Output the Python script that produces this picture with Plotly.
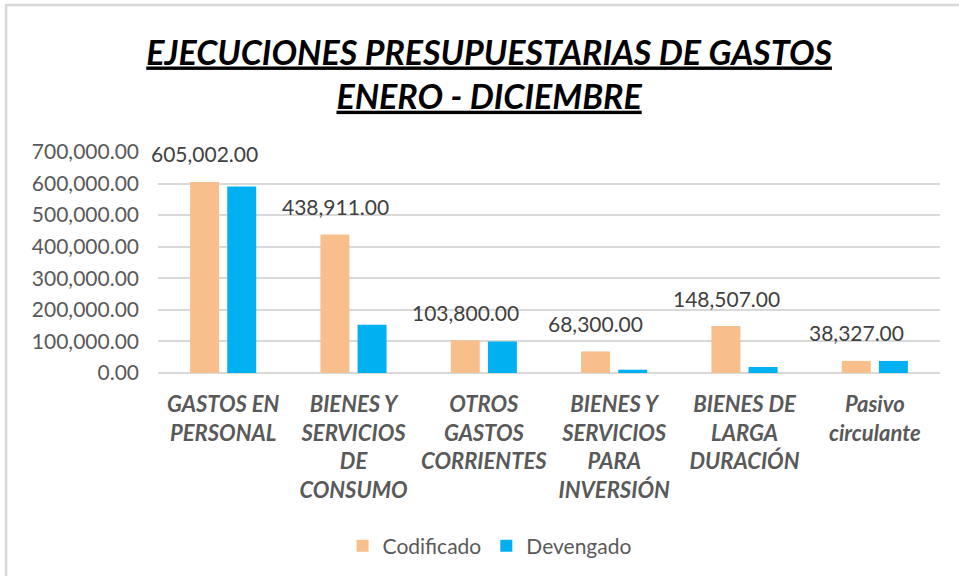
import plotly.graph_objects as go

categories = [
    "GASTOS EN<br>PERSONAL",
    "BIENES Y<br>SERVICIOS<br>DE<br>CONSUMO",
    "OTROS<br>GASTOS<br>CORRIENTES",
    "BIENES Y<br>SERVICIOS<br>PARA<br>INVERSIÓN",
    "BIENES DE<br>LARGA<br>DURACIÓN",
    "Pasivo<br>circulante",
]
codificado = [605002.00, 438911.00, 103800.00, 68300.00, 148507.00, 38327.00]
devengado = [590500.00, 152800.00, 99800.00, 10500.00, 19000.00, 38200.00]
y_ticks = [0, 100000, 200000, 300000, 400000, 500000, 600000, 700000]

FONT = "Lato"
GRAY = "#595959"

fig = go.Figure()
fig.add_trace(go.Bar(name="Codificado", x=categories, y=codificado,
                     marker=dict(color="#F8BE8C", line=dict(width=0))))
fig.add_trace(go.Bar(name="Devengado", x=categories, y=devengado,
                     marker=dict(color="#00B0F0", line=dict(width=0))))

for c, v in zip(categories, codificado):
    fig.add_annotation(x=c, y=v, xref="x", yref="y", text=f"{v:,.2f}",
                       showarrow=False, xshift=-18.5, yshift=28,
                       yanchor="middle", xanchor="center",
                       font=dict(family=FONT, size=21, color="#404040"))

# chart frame (left and top edges)
fig.add_shape(type="path", xref="paper", yref="paper",
              path="M -0.1943 -1.0 L -0.1943 1.665 L 1.1 1.665",
              line=dict(color="#D9D9D9", width=2.5))

fig.update_layout(
    width=959, height=576,
    margin=dict(l=158, r=19, t=152, b=203, autoexpand=False),
    paper_bgcolor="white", plot_bgcolor="white",
    barmode="group", bargap=0.43, bargroupgap=0.22,
    title=dict(
        text="<b><i><u>EJECUCIONES PRESUPUESTARIAS DE GASTOS</u></i></b><br>"
             "<b><i><u>ENERO - DICIEMBRE</u></i></b>",
        x=0.51, xanchor="center", xref="container",
        y=0.888, yanchor="middle", yref="container",
        font=dict(family=FONT, size=34, color="black"),
    ),
    font=dict(family=FONT, color=GRAY),
    legend=dict(orientation="h", x=0.424, xanchor="center", y=-0.783,
                yanchor="middle", font=dict(family=FONT, size=21, color=GRAY),
                itemwidth=30, traceorder="normal"),
    showlegend=True,
)
fig.update_yaxes(range=[0, 700000], tickvals=y_ticks,
                 ticktext=[f"{v:,.2f}" for v in y_ticks],
                 showgrid=True, gridcolor="#D9D9D9", gridwidth=1.5,
                 zeroline=True, zerolinecolor="#D9D9D9", zerolinewidth=1.5,
                 showline=False, ticks="", ticklabelstandoff=18,
                 automargin=False,
                 tickfont=dict(family=FONT, size=21, color=GRAY))
fig.update_xaxes(range=[-0.5, len(categories) - 0.5],
                 showline=False, ticks="", ticklabelstandoff=16,
                 automargin=False,
                 tickfont=dict(family=FONT, size=22, color=GRAY),
                 tickprefix="<b><i>", ticksuffix="</i></b>")

fig.write_html("out.html")
